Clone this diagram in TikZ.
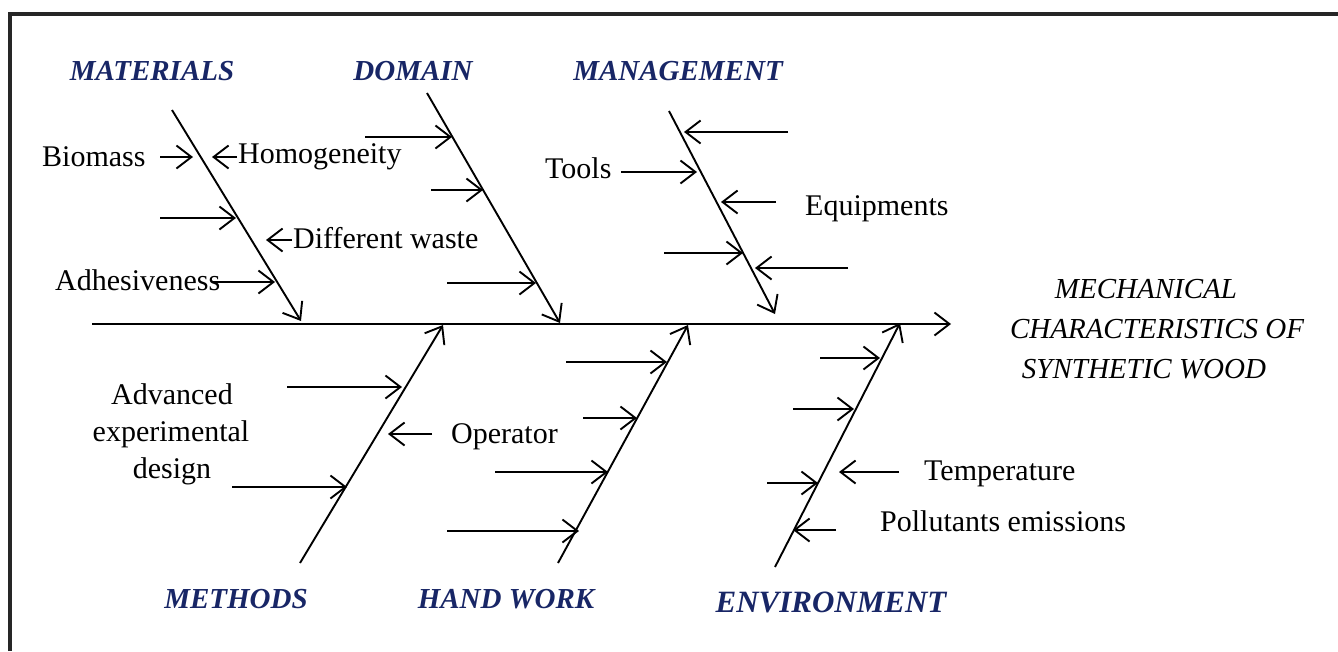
\documentclass[tikz,border=0pt]{standalone}
\usepackage{fontspec}
\setmainfont{Liberation Serif}
\usetikzlibrary{arrows.meta}
\definecolor{hdrblue}{RGB}{24,38,102}
\begin{document}
\begin{tikzpicture}[x=1pt,y=-1pt,
  arr/.style={line width=1.9pt,-{Straight Barb[length=15pt,width=23pt,line width=1.9pt]}},
  lbl/.style={font=\fontsize{30}{36}\selectfont,inner sep=0pt},
  hdr/.style={font=\fontsize{29}{34}\selectfont\bfseries\itshape,text=hdrblue,inner sep=0pt,anchor=base},
  eff/.style={font=\fontsize{29}{36}\selectfont\itshape,inner sep=0pt,anchor=base}]
\useasboundingbox (0,0) rectangle (1338,651);
% frame
\draw[line width=3.5pt,black!85] (10,651) -- (10,14) -- (1338,14);
% spine
\coordinate (sp-s) at (92,324);
\coordinate (sp-e) at (951,324);
\draw[arr] (sp-s) -- (sp-e);
% effect
\node[eff] (eff1) at (1146,298) {MECHANICAL};
\node[eff] (eff2) at (1157,338) {CHARACTERISTICS OF};
\node[eff] (eff3) at (1144,378) {SYNTHETIC WOOD};
% headers
\node[hdr] (hmat) at (152,80) {MATERIALS};
\node[hdr] (hdom) at (413,80) {DOMAIN};
\node[hdr] (hman) at (678,80) {MANAGEMENT};
\node[hdr] (hmet) at (236,608) {METHODS};
\node[hdr] (hhw) at (506,608) {HAND WORK};
\node[hdr,font=\fontsize{31}{34}\selectfont\bfseries\itshape] (henv) at (831,612) {ENVIRONMENT};
% ---------- MATERIALS ----------
\coordinate (mat-a) at (172,110); \coordinate (mat-b) at (301,321);
\draw[arr] (mat-a) -- (mat-b);
\node[lbl,anchor=base west] (biomass) at (42,166) {Biomass};
\coordinate (m1s) at (160,157); \coordinate (m1e) at (193,157);
\draw[arr] (m1s) -- (m1e);
\node[lbl,anchor=base west] (homog) at (238,163) {Homogeneity};
\coordinate (m2s) at (237,157); \coordinate (m2e) at (212,157);
\draw[arr] (m2s) -- (m2e);
\coordinate (m3s) at (160,218); \coordinate (m3e) at (236,218);
\draw[arr] (m3s) -- (m3e);
\node[lbl,anchor=base west] (diffw) at (293,248) {Different waste};
\coordinate (m4s) at (292,240); \coordinate (m4e) at (266,240);
\draw[arr] (m4s) -- (m4e);
\node[lbl,anchor=base west] (adhes) at (55,290) {Adhesiveness};
\coordinate (m5s) at (213,282); \coordinate (m5e) at (275,282);
\draw[arr] (m5s) -- (m5e);
% ---------- DOMAIN ----------
\coordinate (dom-a) at (427,93); \coordinate (dom-b) at (560,323);
\draw[arr] (dom-a) -- (dom-b);
\coordinate (d1s) at (365,137); \coordinate (d1e) at (452,137);
\draw[arr] (d1s) -- (d1e);
\coordinate (d2s) at (431,190); \coordinate (d2e) at (483,190);
\draw[arr] (d2s) -- (d2e);
\coordinate (d3s) at (447,283); \coordinate (d3e) at (536,283);
\draw[arr] (d3s) -- (d3e);
% ---------- MANAGEMENT ----------
\coordinate (man-a) at (669,111); \coordinate (man-b) at (775,314);
\draw[arr] (man-a) -- (man-b);
\coordinate (g1s) at (788,132); \coordinate (g1e) at (684,132);
\draw[arr] (g1s) -- (g1e);
\node[lbl,anchor=base west] (tools) at (545,178) {Tools};
\coordinate (g2s) at (621,172); \coordinate (g2e) at (697,172);
\draw[arr] (g2s) -- (g2e);
\node[lbl,anchor=base west] (equip) at (805,215) {Equipments};
\coordinate (g3s) at (776,202); \coordinate (g3e) at (721,202);
\draw[arr] (g3s) -- (g3e);
\coordinate (g4s) at (664,253); \coordinate (g4e) at (743,253);
\draw[arr] (g4s) -- (g4e);
\coordinate (g5s) at (848,268); \coordinate (g5e) at (755,268);
\draw[arr] (g5s) -- (g5e);
% ---------- METHODS ----------
\coordinate (met-a) at (300,563); \coordinate (met-b) at (443,325);
\draw[arr] (met-a) -- (met-b);
\node[lbl,anchor=base] (adv1) at (172,404) {Advanced};
\node[lbl,anchor=base] (adv2) at (171,441) {experimental};
\node[lbl,anchor=base] (adv3) at (172,478) {design};
\coordinate (t1s) at (287,387); \coordinate (t1e) at (402,387);
\draw[arr] (t1s) -- (t1e);
\node[lbl,anchor=base west] (oper) at (451,443) {Operator};
\coordinate (t2s) at (432,434); \coordinate (t2e) at (388,434);
\draw[arr] (t2s) -- (t2e);
\coordinate (t3s) at (232,487); \coordinate (t3e) at (347,487);
\draw[arr] (t3s) -- (t3e);
% ---------- HAND WORK ----------
\coordinate (hw-a) at (558,563); \coordinate (hw-b) at (688,325);
\draw[arr] (hw-a) -- (hw-b);
\coordinate (w1s) at (566,362); \coordinate (w1e) at (667,362);
\draw[arr] (w1s) -- (w1e);
\coordinate (w2s) at (583,418); \coordinate (w2e) at (637,418);
\draw[arr] (w2s) -- (w2e);
\coordinate (w3s) at (495,472); \coordinate (w3e) at (608,472);
\draw[arr] (w3s) -- (w3e);
\coordinate (w4s) at (447,531); \coordinate (w4e) at (579,531);
\draw[arr] (w4s) -- (w4e);
% ---------- ENVIRONMENT ----------
\coordinate (env-a) at (775,567); \coordinate (env-b) at (900,323);
\draw[arr] (env-a) -- (env-b);
\coordinate (e1s) at (820,358); \coordinate (e1e) at (880,358);
\draw[arr] (e1s) -- (e1e);
\coordinate (e2s) at (793,409); \coordinate (e2e) at (854,409);
\draw[arr] (e2s) -- (e2e);
\node[lbl,anchor=base west] (temp) at (924,480) {Temperature};
\coordinate (e3s) at (899,472); \coordinate (e3e) at (839,472);
\draw[arr] (e3s) -- (e3e);
\coordinate (e4s) at (767,483); \coordinate (e4e) at (818,483);
\draw[arr] (e4s) -- (e4e);
\node[lbl,anchor=base west] (poll) at (880,531) {Pollutants emissions};
\coordinate (e5s) at (836,530); \coordinate (e5e) at (793,530);
\draw[arr] (e5s) -- (e5e);
\end{tikzpicture}
\end{document}
